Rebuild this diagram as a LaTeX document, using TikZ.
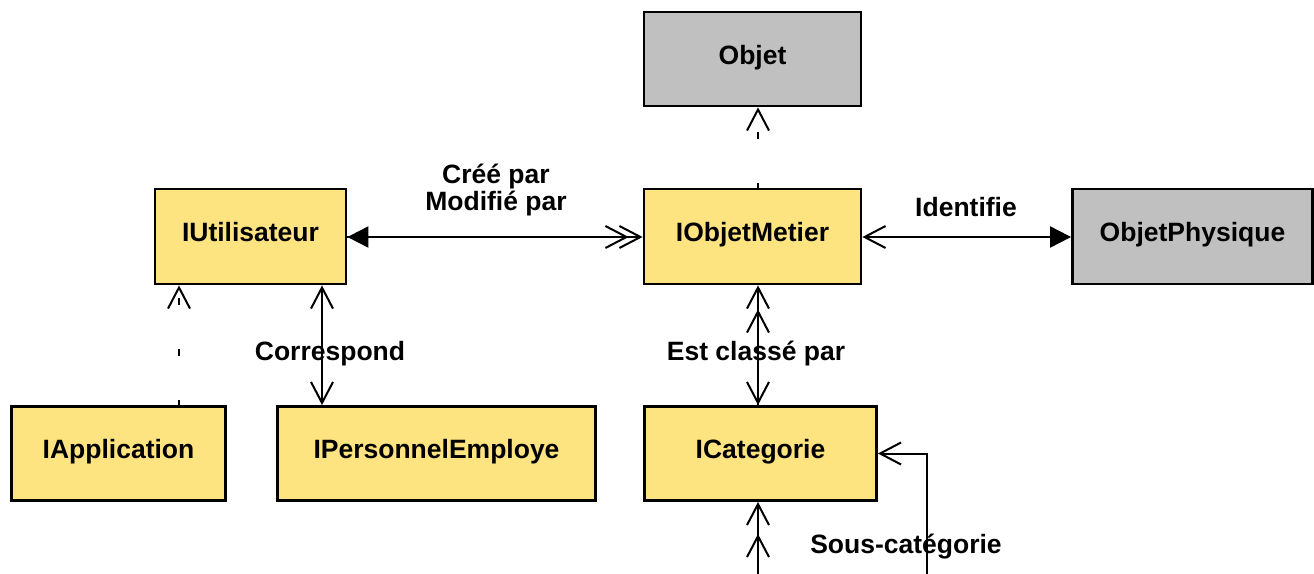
\documentclass[tikz,border=0pt]{standalone}
\usepackage{fontspec}
\setmainfont{Liberation Sans}
\usetikzlibrary{arrows.meta}
\definecolor{boxyellow}{RGB}{254,228,128}
\definecolor{boxgray}{RGB}{192,192,192}
\tikzset{
  openv/.tip={Straight Barb[length=21pt,width=22pt]},
  tri/.tip={Triangle[length=21pt,width=21pt]},
}
\begin{document}
\begin{tikzpicture}[x=1pt,y=-1pt,
  every node/.style={font=\fontsize{26.5}{27}\selectfont\bfseries},
  classbox/.style={draw=black,line width=2.8pt,text height=19pt,text depth=9pt,inner sep=0pt},
  yellowbox/.style={classbox,fill=boxyellow},
  graybox/.style={classbox,fill=boxgray},
  conn/.style={draw=black,line width=2pt},
  realize/.style={conn,dash pattern=on 7pt off 44pt,dash phase=2pt},
  lbl/.style={anchor=base,inner sep=0pt}]
\useasboundingbox (0,0) rectangle (1314,573);
\clip (0,0) rectangle (1314,573);
% classes
\node[graybox,minimum width=217pt,minimum height=94pt] (Objet) at (752.5,59) {Objet};
\node[yellowbox,minimum width=191pt,minimum height=95pt] (IUtilisateur) at (250.5,236.5) {IUtilisateur};
\node[yellowbox,minimum width=217pt,minimum height=95pt] (IObjetMetier) at (752.5,236.5) {IObjetMetier};
\node[graybox,minimum width=240pt,minimum height=95pt] (ObjetPhysique) at (1192.5,236.5) {ObjetPhysique};
\node[yellowbox,minimum width=214pt,minimum height=94pt] (IApplication) at (118.5,453.5) {IApplication};
\node[yellowbox,minimum width=318pt,minimum height=94pt] (IPersonnelEmploye) at (436.5,453.5) {IPersonnelEmploye};
\node[yellowbox,minimum width=232pt,minimum height=94pt] (ICategorie) at (760.5,453.5) {ICategorie};
% realizations
\draw[realize,-{openv}] (IObjetMetier.north -| 758,0) -- (Objet.south -| 758,0);
\draw[realize,-{openv}] (IApplication.north -| 179,0) -- (IUtilisateur.south -| 179,0);
% associations
\draw[conn,{tri}-{openv}] (IUtilisateur.east |- 0,237) -- (IObjetMetier.west |- 0,237);
\draw[conn,-{openv},shorten >=14pt] (IUtilisateur.east |- 0,237) -- (IObjetMetier.west |- 0,237);
\draw[conn,{openv}-{tri}] (IObjetMetier.east |- 0,237) -- (ObjetPhysique.west |- 0,237);
\draw[conn,{openv}-{openv}] (IUtilisateur.south -| 322,0) -- (IPersonnelEmploye.north -| 322,0);
\draw[conn,{openv}-{openv}] (IObjetMetier.south -| 758,0) -- (ICategorie.north -| 758,0);
\draw[conn,{openv}-,shorten <=24pt] (IObjetMetier.south -| 758,0) -- (ICategorie.north -| 758,0);
\draw[conn,{openv}-{openv}] (ICategorie.east) -- (927,453.5) -- (927,640) -- (758,640) -- (ICategorie.south -| 758,0);
\draw[conn,-{openv},shorten >=32pt] (758,640) -- (ICategorie.south -| 758,0);
% labels
\node[lbl,align=center] (lblCree) at (496,210) {Créé par\\Modifié par};
\node[lbl] (lblIdent) at (966,216) {Identifie};
\node[lbl] (lblCorr) at (330,360) {Correspond};
\node[lbl] (lblClasse) at (756,360) {Est classé par};
\node[lbl] (lblSous) at (906,553) {Sous-catégorie};
\end{tikzpicture}
\end{document}
